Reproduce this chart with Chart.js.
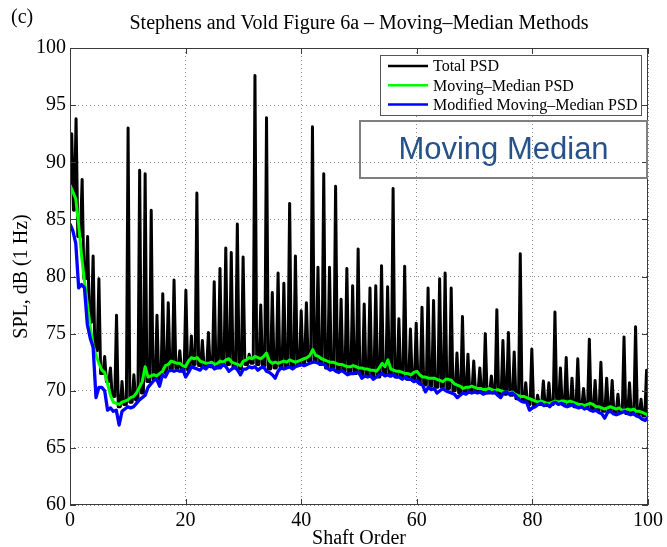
<!DOCTYPE html>
<html>
<head>
<meta charset="utf-8">
<script src="https://cdn.jsdelivr.net/npm/chart.js@4.4.0/dist/chart.umd.min.js"></script>
<style>
  html, body { margin: 0; padding: 0; background: #fff; }
  #wrap { position: relative; width: 667px; height: 547px; }
</style>
</head>
<body>
<div id="wrap"><canvas id="chart" width="667" height="547"></canvas></div>
<script>
// tonal peaks of the total PSD (shaft order, dB)
const peakOrder = [0.3,1.05,2.1,3.05,4.0,5.0,6.0,7.0,8.05,9.0,
  10.05,11.05,12.05,13.0,14.05,15.05,16.05,17.0,18.0,19.0,
  20.05,21.0,21.95,22.9,23.95,24.95,25.95,26.95,27.9,28.95,
  29.95,31.0,32.0,33.0,34.0,35.0,36.0,37.0,38.0,39.0,
  40.0,40.9,41.95,42.9,43.9,44.9,45.95,46.9,47.9,48.9,
  49.85,50.9,51.9,52.9,53.9,54.95,55.9,56.9,57.9,58.9,
  59.9,60.9,61.95,62.9,63.95,64.9,65.95,66.95,67.9,68.85,
  69.85,70.9,71.85,72.9,73.85,74.9,75.85,76.85,77.9,78.85,
  79.9,80.9,81.9,82.85,83.9,84.85,85.85,86.85,87.85,88.85,
  89.85,90.85,91.85,92.85,93.8,94.8,95.85,96.8,97.85,98.8,
  99.75];
const peakDb = [92.5,93.8,88.5,83.5,81.8,79.8,73.0,72.0,76.6,70.8,
  93.0,71.4,89.3,89.0,85.8,76.6,78.5,77.7,79.7,73.5,
  78.8,74.8,87.3,74.4,75.1,79.55,80.7,82.5,82.1,84.6,
  81.7,73.2,97.6,77.5,93.9,78.6,80.3,79.4,86.4,81.8,
  77.0,77.7,93.1,80.8,89.0,80.8,87.9,78.0,80.7,79.2,
  82.4,77.6,79.0,79.2,80.95,79.1,87.7,76.3,80.9,75.4,
  75.9,77.3,79.0,77.9,79.8,80.3,79.0,73.3,76.5,73.2,
  72.6,72.0,75.0,71.3,77.1,74.4,75.1,73.4,82.0,70.7,
  73.65,69.6,70.85,70.7,76.9,72.0,72.9,71.1,72.8,70.2,
  74.5,70.9,72.5,71.1,70.9,69.7,74.7,70.7,75.6,69.25,
  71.8];
// floor of the total PSD: at order 0, between each pair of peaks, at order 100
const valleyDb = [87.5,85.8,83.5,79.8,76.0,73.5,71.5,70.8,69.5,68.6,
  68.8,69.0,69.2,69.8,70.8,71.0,71.0,71.6,71.9,72.0,
  71.7,71.8,72.3,72.2,72.0,72.1,72.0,72.2,72.3,72.0,
  71.9,72.3,72.4,72.3,72.2,71.9,72.0,72.1,72.1,72.0,
  72.2,72.3,72.6,72.6,72.3,72.0,71.9,71.8,71.7,71.6,
  71.5,71.4,71.3,71.3,71.2,71.4,71.3,71.2,71.1,71.0,
  70.9,70.7,70.5,70.4,70.3,70.3,70.2,70.0,69.8,69.9,
  69.9,69.9,69.8,69.8,69.8,69.7,69.7,69.6,69.3,69.1,
  68.8,68.7,68.8,68.7,68.8,68.9,68.8,68.7,68.6,68.6,
  68.5,68.4,68.3,68.2,68.2,68.1,68.1,68.0,68.0,67.9,
  67.8,67.9];

// moving-median estimates, every half order
const medOrder = [0,0.5,1,1.5,2,2.5,3,3.5,4,4.5,5,5.5,6,6.5,7,7.5,8,8.5,9,9.5,
  10,10.5,11,11.5,12,12.5,13,13.5,14,14.5,15,15.5,16,16.5,17,17.5,18,18.5,19,19.5,
  20,20.5,21,21.5,22,22.5,23,23.5,24,24.5,25,25.5,26,26.5,27,27.5,28,28.5,29,29.5,
  30,30.5,31,31.5,32,32.5,33,33.5,34,34.5,35,35.5,36,36.5,37,37.5,38,38.5,39,39.5,
  40,40.5,41,41.5,42,42.5,43,43.5,44,44.5,45,45.5,46,46.5,47,47.5,48,48.5,49,49.5,
  50,50.5,51,51.5,52,52.5,53,53.5,54,54.5,55,55.5,56,56.5,57,57.5,58,58.5,59,59.5,
  60,60.5,61,61.5,62,62.5,63,63.5,64,64.5,65,65.5,66,66.5,67,67.5,68,68.5,69,69.5,
  70,70.5,71,71.5,72,72.5,73,73.5,74,74.5,75,75.5,76,76.5,77,77.5,78,78.5,79,79.5,
  80,80.5,81,81.5,82,82.5,83,83.5,84,84.5,85,85.5,86,86.5,87,87.5,88,88.5,89,89.5,
  90,90.5,91,91.5,92,92.5,93,93.5,94,94.5,95,95.5,96,96.5,97,97.5,98,98.5,99,99.5,
  100];
const movingMedianDb = [88.0,87.4,86.8,84.5,81.8,79.6,77.6,75.6,74.0,73.1,72.4,71.8,71.6,70.6,69.6,69.0,68.9,68.8,69.0,69.1,
  69.2,69.4,69.5,69.8,70.3,70.8,72.1,71.2,71.3,71.4,71.3,71.5,71.7,72.2,72.3,72.6,72.5,72.4,72.4,72.2,
  72.1,72.6,72.9,72.8,72.9,72.6,72.5,72.4,72.4,72.5,72.3,72.4,72.6,72.5,72.7,72.8,72.5,72.4,72.3,72.2,
  72.6,72.7,72.9,72.8,73.0,72.9,72.8,73.0,73.3,72.6,72.4,72.5,72.4,72.5,72.6,72.5,72.7,72.6,72.5,72.6,
  72.7,72.8,72.9,73.1,73.6,73.1,73.0,72.8,72.7,72.6,72.5,72.5,72.4,72.3,72.3,72.2,72.1,72.1,72.2,72.1,
  72.0,72.0,71.9,71.9,71.8,71.8,71.7,72.0,72.4,72.1,72.7,71.9,71.8,71.7,71.7,71.6,71.5,71.5,71.4,71.6,
  71.7,71.4,71.2,71.2,71.1,71.1,71.1,71.0,70.9,70.8,71.0,71.0,70.9,70.6,70.5,70.4,70.2,70.3,70.3,70.4,
  70.3,70.2,70.2,70.1,70.1,70.2,70.1,70.0,70.1,70.0,69.9,69.9,69.8,69.9,69.7,69.6,69.5,69.5,69.4,69.3,
  69.2,69.1,69.0,69.1,69.0,68.9,68.9,69.0,69.1,69.0,69.1,69.1,69.0,69.1,69.0,68.9,68.8,68.8,68.7,68.8,
  68.9,68.8,68.6,68.6,68.5,68.4,68.5,68.6,68.5,68.4,68.5,68.3,68.3,68.4,68.3,68.4,68.2,68.2,68.1,68.0,
  67.9];
const modifiedMedianDb = [84.6,84.0,82.9,79.0,79.3,79.0,75.8,74.6,73.8,69.4,70.3,70.3,70.0,68.3,68.5,68.2,68.3,67.0,68.2,68.4,
  68.6,68.5,68.6,68.9,69.2,69.4,69.6,70.3,70.6,70.9,71.0,70.4,71.4,71.2,71.7,71.8,71.7,71.8,71.7,71.9,
  71.2,71.6,72.1,72.0,71.9,71.8,72.1,71.9,72.2,72.2,71.9,72.1,72.0,72.3,72.1,71.7,71.9,72.1,71.8,71.4,
  71.9,71.9,72.1,72.0,72.1,71.8,72.0,72.1,71.7,71.6,71.4,71.1,71.7,72.0,71.9,72.0,72.1,71.9,72.1,72.2,
  72.3,72.2,72.3,72.4,72.5,72.5,72.4,72.3,72.3,72.0,71.8,71.9,71.7,71.6,71.8,71.6,71.4,71.5,71.5,71.6,
  71.6,71.1,71.3,71.2,71.3,71.0,71.2,71.4,71.5,71.3,71.4,71.3,71.4,71.2,71.2,71.0,71.2,71.0,71.0,70.8,
  70.9,70.6,70.5,69.9,70.3,70.1,70.2,69.8,70.0,70.2,70.0,69.9,69.8,69.7,69.4,69.6,69.8,69.7,69.9,69.8,
  69.9,69.8,69.9,69.7,69.8,69.9,69.8,69.9,69.6,69.4,69.8,69.9,69.7,69.8,69.6,69.3,69.1,69.0,69.0,68.3,
  68.5,68.6,68.8,68.9,68.7,68.8,68.6,68.9,69.0,68.8,68.9,68.7,68.6,68.7,68.8,68.6,68.5,68.6,68.4,68.5,
  68.3,68.2,68.3,68.1,68.0,67.6,68.1,68.2,68.0,67.9,68.0,68.1,68.2,68.0,67.9,68.0,67.8,67.7,67.5,67.4,
  67.7];

const xTicks = [0, 20, 40, 60, 80, 100];
const yTicks = [60, 65, 70, 75, 80, 85, 90, 95, 100];
const seriesNames = ["Total PSD", "Moving\u2013Median PSD", "Modified Moving\u2013Median PSD"];
const seriesColors = ["#000000", "#00ff00", "#0000ff"];

// total PSD: floor, then a narrow spike at each tonal order
const spikeHalfWidth = 0.3; // orders
let totalPts = [{x: 0, y: valleyDb[0]}];
for (let i = 0; i < peakOrder.length; i++) {
  totalPts.push({x: Math.max(0, peakOrder[i] - spikeHalfWidth), y: valleyDb[i]});
  totalPts.push({x: peakOrder[i], y: peakDb[i]});
  totalPts.push({x: Math.min(100, peakOrder[i] + spikeHalfWidth), y: valleyDb[i + 1]});
}
totalPts.push({x: 100, y: valleyDb[valleyDb.length - 1]});
const mmPts = medOrder.map((o, i) => ({x: o, y: movingMedianDb[i]}));
const modPts = medOrder.map((o, i) => ({x: o, y: modifiedMedianDb[i]}));

Chart.defaults.font.family = "'Liberation Serif', 'Times New Roman', serif";
Chart.defaults.color = "#000";

// matlab style box, inward ticks, legend and the text box
const decorations = {
  id: 'decorations',
  afterDatasetsDraw(chart) {
    const {ctx, chartArea: a, scales: {x, y}} = chart;
    ctx.save();
    ctx.strokeStyle = "#3a3a3a";
    ctx.lineWidth = 1;
    ctx.strokeRect(a.left + 0.5, a.top + 0.5, a.width - 1, a.height - 1);
    ctx.beginPath();
    xTicks.forEach(v => {
      let px = Math.round(x.getPixelForValue(v)) + 0.5;
      ctx.moveTo(px, a.bottom); ctx.lineTo(px, a.bottom - 6);
      ctx.moveTo(px, a.top); ctx.lineTo(px, a.top + 6);
    });
    yTicks.forEach(v => {
      let py = Math.round(y.getPixelForValue(v)) + 0.5;
      ctx.moveTo(a.left, py); ctx.lineTo(a.left + 6, py);
      ctx.moveTo(a.right, py); ctx.lineTo(a.right - 6, py);
    });
    ctx.stroke();
    ctx.restore();
  },
  afterDraw(chart) {
    const {ctx, chartArea: a} = chart;
    ctx.save();
    // legend
    let lx = a.right - 268, ly = a.top + 7;
    ctx.fillStyle = "#fff";
    ctx.fillRect(lx, ly, 262, 61);
    ctx.strokeStyle = "#555";
    ctx.lineWidth = 1;
    ctx.strokeRect(lx + 0.5, ly + 0.5, 261, 60);
    ctx.font = "16px 'Liberation Serif'";
    ctx.textBaseline = "middle";
    seriesNames.forEach((name, i) => {
      let ry = ly + 11 + i * 19.3;
      ctx.strokeStyle = seriesColors[i];
      ctx.lineWidth = 2.5;
      ctx.beginPath(); ctx.moveTo(lx + 8, ry); ctx.lineTo(lx + 48, ry); ctx.stroke();
      ctx.fillStyle = "#000";
      ctx.fillText(name, lx + 53, ry + 1);
    });
    // annotation box
    ctx.strokeStyle = "#7f7f7f";
    ctx.lineWidth = 2;
    ctx.strokeRect(a.left + 290, a.top + 73, 287, 57);
    ctx.fillStyle = "#25528a";
    ctx.font = "31px 'Liberation Sans'";
    ctx.textAlign = "center";
    ctx.fillText("Moving Median", a.left + 433.5, a.top + 102);
    // panel letter
    ctx.fillStyle = "#000";
    ctx.textAlign = "left";
    ctx.font = "20px 'Liberation Serif'";
    ctx.fillText("(c)", 11, 18);
    ctx.restore();
  }
};

const theChart = new Chart(document.getElementById("chart"), {
  type: 'line',
  data: {
    datasets: [
      {label: seriesNames[0], data: totalPts, borderColor: seriesColors[0], borderWidth: 3, order: 3},
      {label: seriesNames[1], data: mmPts, borderColor: seriesColors[1], borderWidth: 3, order: 2},
      {label: seriesNames[2], data: modPts, borderColor: seriesColors[2], borderWidth: 3.3, order: 1}
    ]
  },
  options: {
    responsive: false,
    animation: false,
    parsing: false,
    elements: { point: { radius: 0 }, line: { tension: 0, borderJoinStyle: 'round' } },
    layout: { padding: { top: 0, left: 0, right: 17, bottom: 0 } },
    plugins: {
      legend: { display: false },
      tooltip: { enabled: false },
      title: {
        display: true,
        fullSize: false,
        text: "Stephens and Vold Figure 6a \u2013 Moving\u2013Median Methods",
        color: "#000",
        font: { size: 20, weight: 'normal', lineHeight: 1.2 },
        padding: { top: 12, bottom: 12 }
      }
    },
    scales: {
      x: {
        type: 'linear', min: 0, max: 100,
        afterBuildTicks: s => { s.ticks = xTicks.map(v => ({value: v})); },
        afterFit: s => { s.height = 42; },
        grid: { color: "rgba(0,0,0,0.45)", lineWidth: 1, drawTicks: false },
        border: { display: false, dash: [1, 3] },
        ticks: { font: { size: 20 }, padding: 4, maxRotation: 0 },
        title: { display: true, text: "Shaft Order", font: { size: 20, lineHeight: 1 }, padding: { top: 0, bottom: -2 } }
      },
      y: {
        type: 'linear', min: 60, max: 100,
        afterBuildTicks: s => { s.ticks = yTicks.map(v => ({value: v})); },
        afterFit: s => { s.width = 70; },
        grid: { color: "rgba(0,0,0,0.45)", lineWidth: 1, drawTicks: false },
        border: { display: false, dash: [1, 3] },
        ticks: { font: { size: 20 }, padding: 4 },
        title: { display: true, text: "SPL, dB (1 Hz)", font: { size: 20, lineHeight: 1 }, padding: { top: 12, bottom: 0 } }
      }
    }
  },
  plugins: [decorations]
});
</script>
</body>
</html>
